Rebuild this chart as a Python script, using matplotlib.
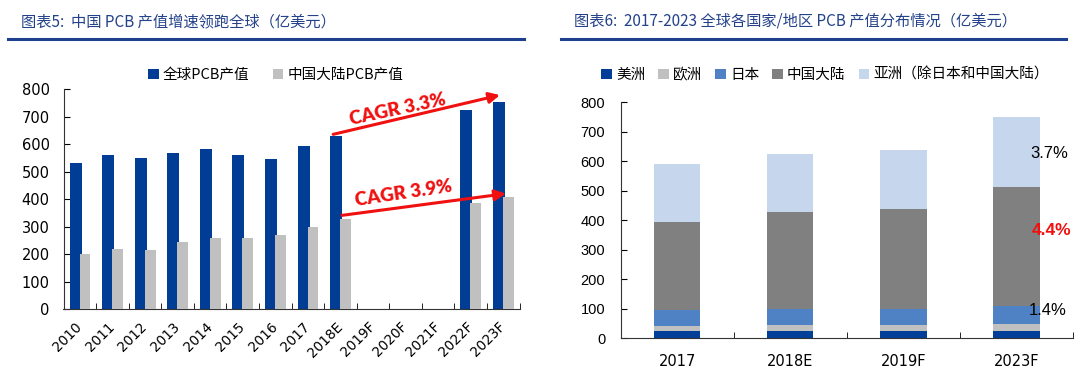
import matplotlib
matplotlib.use("Agg")
import matplotlib.pyplot as plt
import numpy as np

CJK = ["Noto Sans CJK SC", "DejaVu Sans"]

# left chart: global vs mainland China PCB output (100M USD)
years = ["2010", "2011", "2012", "2013", "2014", "2015", "2016",
         "2017", "2018E", "2019F", "2020F", "2021F", "2022F", "2023F"]
global_pcb = [530, 560, 549, 567, 581, 559, 547, 595, 631, np.nan, np.nan, np.nan, 723, 755]
china_pcb = [201, 219, 216, 245, 260, 260, 270, 297, 326, np.nan, np.nan, np.nan, 386, 407]
cagr_labels = ["CAGR 3.3%", "CAGR 3.9%"]

# right chart: PCB output by region
periods = ["2017", "2018E", "2019F", "2023F"]
regions = ["美洲", "欧洲", "日本", "中国大陆", "亚洲（除日本和中国大陆）"]
america = [24, 25, 24, 26]
europe = [19, 20, 20, 21]
japan = [53, 54, 55, 61]
china_mainland = [297, 328, 338, 404]
asia_other = [199, 199, 203, 238]
growth_labels = ["3.7%", "4.4%", "1.4%"]

BLUE = "#013d95"
GRAY = "#c0c0c0"
RED = "#f01010"
TITLE_BLUE = "#24428a"
REGION_COLORS = ["#013f98", "#c0c0c0", "#4f81c5", "#808080", "#c6d6ec"]

fig = plt.figure(figsize=(10.8, 3.83), dpi=100)

# titles and rules
fig.text(21 / 1080, 1 - 21.5 / 383, "图表5:  中国 PCB 产值增速领跑全球（亿美元）",
         family=CJK, fontsize=11, color=TITLE_BLUE, style="italic", va="center")
fig.text(574 / 1080, 1 - 21.5 / 383, "图表6:  2017-2023 全球各国家/地区 PCB 产值分布情况（亿美元）",
         family=CJK, fontsize=11, color=TITLE_BLUE, style="italic", va="center")
for x0, x1 in [(8, 524), (561, 1066)]:
    fig.add_artist(plt.Line2D([x0 / 1080, x1 / 1080], [1 - 38.7 / 383] * 2,
                              color="#1f3f8f", lw=2.2, transform=fig.transFigure))

# ---- left chart
ax = fig.add_axes([63.5 / 1080, 1 - 309 / 383, 456 / 1080, 219.7 / 383])
x = np.arange(len(years))
b1 = ax.bar(x - 0.13, global_pcb, width=0.37, color=BLUE, label="全球PCB产值", zorder=2)
b2 = ax.bar(x + 0.16, china_pcb, width=0.33, color=GRAY, label="中国大陆PCB产值", zorder=3)
ax.set_xlim(-0.5, len(years) - 0.5)
ax.set_ylim(0, 800)
ax.set_yticks(range(0, 801, 100))
ax.set_xticks(x)
ax.set_xticklabels(years, rotation=45, ha="right", va="center", rotation_mode="anchor",
                   fontsize=9.8)
ax.set_xticks(np.arange(0.5, len(years) - 0.5 + 0.01, 1), minor=True)
ax.tick_params(axis="x", which="major", length=0, pad=11)
ax.tick_params(axis="x", which="minor", length=4, direction="in")
ax.tick_params(axis="y", direction="in", length=4, labelsize=10.5, pad=10)
ax.spines[["top", "right"]].set_visible(False)
for s in ["left", "bottom"]:
    ax.spines[s].set_color("#333333")

i18, i23 = years.index("2018E"), years.index("2023F")
ax.annotate("", xy=(i23 - 0.1, global_pcb[i23] + 24), xytext=(i18 - 0.22, global_pcb[i18] + 5),
            arrowprops=dict(arrowstyle="-|>", color=RED, lw=2.2, mutation_scale=16,
                            shrinkA=0, shrinkB=0), zorder=5)
ax.annotate("", xy=(i23 + 0.08, china_pcb[i23] + 13), xytext=(i18 + 0.05, china_pcb[i18] + 15),
            arrowprops=dict(arrowstyle="-|>", color=RED, lw=2.2, mutation_scale=16,
                            shrinkA=0, shrinkB=0), zorder=5)
ax.text(9.75, 728, cagr_labels[0], color=RED, family="Lato", weight="heavy", fontsize=13.5,
        rotation=12, ha="center", va="center", rotation_mode="anchor", zorder=6)
ax.text(9.94, 420, cagr_labels[1], color=RED, family="Lato", weight="heavy", fontsize=13.5,
        rotation=8.5, ha="center", va="center", rotation_mode="anchor", zorder=6)

fig.legend(handles=[b1, b2], loc="center", bbox_to_anchor=(275.5 / 1080, 1 - 75 / 383),
           ncol=2, frameon=False, prop={"family": CJK, "size": 10.5},
           handlelength=0.75, handleheight=0.75, handletextpad=0.25, columnspacing=1.6)

# ---- right chart
ax2 = fig.add_axes([620.5 / 1080, 1 - 338.3 / 383, 452.5 / 1080, 236 / 383])
xr = np.arange(len(periods))
bottom = np.zeros(len(periods))
handles = []
for name, vals, col in zip(regions, [america, europe, japan, china_mainland, asia_other], REGION_COLORS):
    h = ax2.bar(xr, vals, width=0.41, bottom=bottom, color=col, label=name, zorder=2)
    handles.append(h)
    bottom += np.array(vals)
ax2.set_xlim(-0.5, len(periods) - 0.5)
ax2.set_ylim(0, 800)
ax2.set_yticks(range(0, 801, 100))
ax2.set_yticklabels([str(v) for v in range(0, 801, 100)], family="Liberation Sans", fontsize=10.5)
ax2.set_xticks(xr)
ax2.set_xticklabels(periods, fontsize=10.5)
ax2.set_xticks(np.arange(0.5, len(periods) - 0.5 + 0.01, 1), minor=True)
ax2.tick_params(axis="x", which="major", length=0, pad=11)
ax2.tick_params(axis="x", which="minor", length=4, direction="in")
ax2.tick_params(axis="y", direction="in", length=4, pad=11)
ax2.spines[["top", "right"]].set_visible(False)
for s in ["left", "bottom"]:
    ax2.spines[s].set_color("#333333")

ax2.text(3.29, 625, growth_labels[0], family="Liberation Sans", fontsize=12, ha="center", va="center")
ax2.text(3.31, 367, growth_labels[1], family="Liberation Sans", fontsize=12.5, weight="bold",
         color=RED, ha="center", va="center")
ax2.text(3.28, 93, growth_labels[2], family="Liberation Sans", fontsize=12, ha="center", va="center")

fig.legend(handles=handles, loc="center", bbox_to_anchor=(825 / 1080, 1 - 75 / 383),
           ncol=5, frameon=False, prop={"family": CJK, "size": 10.5},
           handlelength=0.7, handleheight=0.7, handletextpad=0.3, columnspacing=0.9)

fig.savefig("out.png", dpi=100)
